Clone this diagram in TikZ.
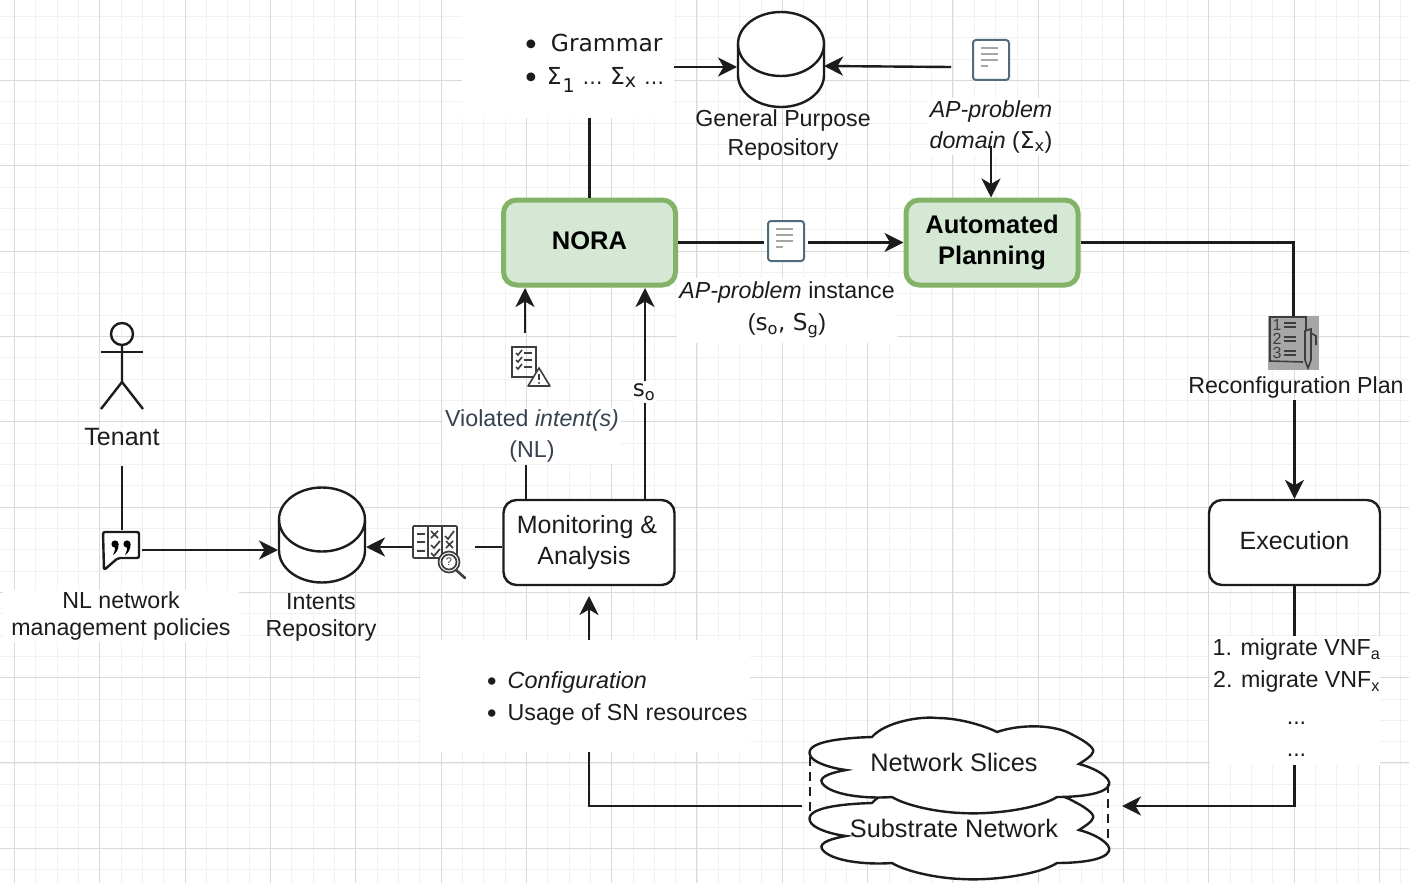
\documentclass[tikz,border=0pt]{standalone}
\usepackage{fontspec}
\setmainfont{Liberation Sans}
\newfontfamily\dejavu{DejaVu Sans}
\usetikzlibrary{arrows.meta}

\definecolor{inkline}{HTML}{1C1C1C}
\definecolor{slatetext}{HTML}{36424F}
\definecolor{gridmajor}{HTML}{D9D9D9}
\definecolor{gridminor}{HTML}{F1F1F1}
\definecolor{greenfill}{HTML}{D5E8D4}
\definecolor{greenline}{HTML}{82B366}
\definecolor{docline}{HTML}{4E6C7C}
\definecolor{iconline}{HTML}{3E3E3E}

\tikzset{
  flow/.style={draw=inkline, line width=2.4pt},
  flowarrow/.style={flow, -{Stealth[length=19pt,width=19pt,inset=5.5pt]}},
  greenbox/.style={draw=greenline, fill=greenfill, line width=5pt, rounded corners=13pt,
    minimum width=172pt, minimum height=85pt, align=center, text=black,
    font=\fontsize{25.5}{31}\selectfont\bfseries},
  whitebox/.style={draw=inkline, fill=white, line width=2.4pt, rounded corners=13pt,
    minimum width=171pt, minimum height=85pt, align=center, text=inkline,
    font=\fontsize{25}{31}\selectfont},
  lbl/.style={inner sep=2pt, align=center, text=inkline, font=\fontsize{23.2}{30}\selectfont},
  patch/.style={lbl, fill=white},
  spot/.style={inner sep=0pt},
  cloudline/.style={draw=inkline, fill=white, line width=2.4pt},
  repobody/.pic={
    \draw[flow, fill=white] (-43,-15.5) -- (-43,15.5) arc[start angle=180, end angle=0, x radius=43, y radius=32]
      -- (43,-15.5) arc[start angle=0, end angle=-180, x radius=43, y radius=32] -- cycle;
    \draw[flow] (-43,-15.5) arc[start angle=180, end angle=0, x radius=43, y radius=32];
  },
  docpage/.pic={
    \draw[draw=docline, fill=white, line width=2pt, rounded corners=3pt] (-18,-20) rectangle (18,20);
    \foreach \y/\w in {-12/17,-6/17,0/17,6/7}
      \draw[draw=gray!70, line width=2pt] (-10,\y) -- ({-10+\w},\y);
  }
}

\begin{document}
\begin{tikzpicture}[x=1pt,y=-1pt]

% Page size
\useasboundingbox (0,0) rectangle (1409,883);
\fill[white] (0,0) rectangle (1409,883);

% Background grid
\foreach \i in {0,...,66} {
  \pgfmathsetmacro{\gx}{round(14+21.33*\i-21.33)+0.5}
  \draw[gridminor, line width=1pt] (\gx,0) -- (\gx,883);
}
\foreach \i in {0,...,42} {
  \pgfmathsetmacro{\gy}{round(-5.3+21.33*\i)+0.5}
  \draw[gridminor, line width=1pt] (0,\gy) -- (1409,\gy);
}
\foreach \i in {0,...,16} {
  \pgfmathsetmacro{\gx}{round(14+85.3*\i)+0.5}
  \draw[gridmajor, line width=1.2pt] (\gx,0) -- (\gx,883);
}
\foreach \i in {1,...,10} {
  \pgfmathsetmacro{\gy}{round(-5.3+85.3*\i)+0.5}
  \draw[gridmajor, line width=1.2pt] (0,\gy) -- (1409,\gy);
}

% Free ends of the connectors
\coordinate (gpIn) at (737,67);
\coordinate (gpOut) at (824,66);
\coordinate (domainOut) at (951,67);
\coordinate (domainDown) at (991,146);
\coordinate (noraLeftIn) at (525,288);
\coordinate (noraRightIn) at (645,288);
\coordinate (violStart) at (526,499);
\coordinate (soStart) at (645,499);
\coordinate (monIn) at (589,596);
\coordinate (repoIn) at (278,550);
\coordinate (repoOut) at (366,547);
\coordinate (cloudIn) at (1122,806);
\coordinate (cloudOut) at (802,806);
\coordinate (tenantOut) at (122,466);

% Repositories
\node[spot, minimum width=85pt, minimum height=95pt] (gpRepo) at (781,59.5) {};
\pic at (gpRepo) {repobody};
\node[spot, minimum width=85pt, minimum height=95pt] (intentsRepo) at (322,535) {};
\pic at (intentsRepo) {repobody};
\node[lbl, font=\fontsize{23.2}{29}\selectfont] (gpText) at (783,135) {General Purpose\\Repository};
\node[lbl, font=\fontsize{23.2}{27}\selectfont] (intentsText) at (321,617) {Intents\\Repository};

% Grammar list
\node[patch, minimum width=212pt, minimum height=118pt] (grammarList) at (568,59) {};
\node[lbl, anchor=west, align=left, font=\fontsize{23.4}{33}\selectfont\dejavu] (grammarText) at (520,63)
  {\raisebox{-4pt}{\fontsize{30}{33}\selectfont\textbullet}\hspace{11pt}Grammar\\\raisebox{-4pt}{\fontsize{30}{33}\selectfont\textbullet}\hspace{7pt}Σ{\fontsize{19}{33}\selectfont\textsubscript{\kern1pt\fontsize{19}{19}\selectfont 1}} {\fontsize{20}{33}\selectfont\ldots} Σ\textsubscript{\fontsize{19}{19}\selectfont x} {\fontsize{20}{33}\selectfont\ldots}};

% Main blocks
\node[greenbox] (nora) at (589.5,242.5) {\raisebox{4pt}{NORA}};
\node[greenbox] (planner) at (992,242.5) {\raisebox{1.5pt}{Automated}\\\raisebox{1.5pt}{Planning}};
\node[whitebox] (monitor) at (589,542.5) {\hspace{-4pt}Monitoring \&\\\hspace{-10pt}Analysis};
\node[whitebox] (execution) at (1294.5,542.5) {\raisebox{5pt}{Execution}};

% Text labels
\node[patch, font=\fontsize{23.2}{31}\selectfont] (domainText) at (991,126.5)
  {\textit{AP-problem}\\\textit{domain} ({\dejavu Σ\textsubscript{x}})};
\node[patch, minimum width=217pt, minimum height=65pt, font=\fontsize{23.2}{32}\selectfont] (instanceText) at (787,310)
  {\textit{AP-problem} instance\\({\dejavu s\textsubscript{o}, S\textsubscript{g}})};
\node[patch, text=slatetext, font=\fontsize{23.2}{31}\selectfont] (violText) at (532,436) {Violated \textit{intent(s)}\\(NL)};
\node[patch, font=\fontsize{23}{30}\selectfont\dejavu] (soText) at (644,392) {s\textsubscript{o}};
\node[lbl, font=\fontsize{25}{30}\selectfont] (tenantText) at (122,437) {Tenant};
\node[patch, minimum width=236pt, minimum height=50pt, font=\fontsize{23.2}{27}\selectfont] (policyText) at (121,616)
  {NL network\\management policies};
\node[lbl] (planText) at (1296,387) {Reconfiguration Plan};
\node[patch, minimum width=330pt, minimum height=112pt] (configList) at (585,696) {};
\node[lbl, anchor=west, align=left, font=\fontsize{23.2}{32}\selectfont] (configText) at (485,698)
  {\raisebox{-2pt}{\fontsize{27}{32}\selectfont\textbullet}\hspace{11pt}{\fontsize{23.4}{32}\selectfont\textit{Configuration}}\\\raisebox{-2pt}{\fontsize{27}{32}\selectfont\textbullet}\hspace{11pt}Usage of SN resources};
\node[patch, minimum width=170pt, minimum height=129pt] (stepList) at (1294.5,700.5) {};
\node[lbl, font=\fontsize{23.2}{32}\selectfont] (stepText) at (1296.5,698)
  {1. migrate VNF\textsubscript{a}\\2. migrate VNF\textsubscript{x}\\[5pt]...\\...};

% Document icons
\node[spot, minimum width=36pt, minimum height=40pt] (docDomain) at (991,60) {};
\pic at (docDomain) {docpage};
\node[spot, minimum width=44pt, minimum height=40pt] (docInstance) at (786,241) {};
\pic at (docInstance) {docpage};

% Violated intents icon
\node[spot, minimum width=40pt, minimum height=40pt] (checkIcon) at (531,353) {};
\begin{scope}[shift={(524,362)}, draw=iconline, line width=1.6pt]
  \draw (-12,-15) rectangle (12,15);
  \foreach \y in {-9,-2,5} {
    \draw (-8,\y) -- (-6,{\y+2}) -- (-2,{\y-3});
    \draw (0,\y) -- (8,\y);
  }
  \draw[fill=white, line join=round] (15,6) -- (4,24) -- (26,24) -- cycle;
  \draw[line width=2pt] (15,12) -- (15,18);
  \fill[iconline] (15,21) circle (1.2);
\end{scope}

% Analysis icon
\node[spot, minimum width=62pt, minimum height=60pt] (analysisIcon) at (443.5,547) {};
\begin{scope}[draw=iconline, line width=1.7pt]
  \draw[rounded corners=1pt] (413,526) rectangle (457,558);
  \draw (428,526) -- (428,558) (442,526) -- (442,558);
  \foreach \y in {534,542,551} \draw (417,\y) -- (425,\y);
  \draw (431,531) -- (438,538) (438,531) -- (431,538);
  \draw (445,536) -- (448,539) -- (454,531);
  \draw (431,545) -- (434,548) -- (440,541);
  \draw (446,541) -- (453,548) (453,541) -- (446,548);
  \draw (431,553) -- (434,556) -- (440,549);
  \draw[line width=2.6pt, line cap=round] (456,570) -- (465,578);
  \draw[fill=white] (449,562) circle (10.5);
  \draw (449,562) circle (7.5);
  \node[spot, text=iconline, font=\fontsize{11}{11}\selectfont] (analysisMark) at (449,562) {?};
\end{scope}

% Tenant figure
\draw[flow] (122,334) circle (11);
\draw[flow] (122,345) -- (122,382) -- (101,409);
\draw[flow] (122,382) -- (143,409);
\draw[flow] (101,352) -- (143,352);

% Quote icon
\node[spot, minimum width=42pt, minimum height=38pt] (quoteIcon) at (121,549) {};
\draw[flow, fill=white, line join=round, rounded corners=2pt] (103,532) -- (139,532) -- (139,558) -- (118,558) -- (104,570) -- cycle;
\foreach \x in {115,127} {
  \fill[black] (\x,544) circle (3.6);
  \fill[black] ({\x+3.6},544) .. controls ({\x+3.6},550) and ({\x+1},553) .. ({\x-2},555) .. controls ({\x},551) and ({\x},549) .. (\x,547) -- cycle;
}

% Plan icon
\node[spot, fill=black!35, minimum width=51pt, minimum height=54pt] (planIcon) at (1293.5,343) {};
\begin{scope}[draw=iconline, line width=1.6pt]
  \draw (1306,330) -- (1306,317) -- (1270,317) -- (1270,361) -- (1303,362);
  \foreach \y/\n in {325/1,339/2,353/3} {
    \node[spot, text=iconline, font=\fontsize{16}{16}\selectfont] (num\n) at (1277,\y) {\n};
    \draw (1284,{\y-2}) -- (1296,{\y-2}) (1284,{\y+2}) -- (1296,{\y+2});
  }
  \draw (1305,331) -- (1311,329) -- (1311,360) -- (1308,368) -- (1305,360) -- cycle;
  \draw (1311,333) -- (1316,336) -- (1316,345);
\end{scope}

% Clouds, lower one first
\def\cloudshape{(810,755) .. controls (805,742) and (840,738) .. (872,737)
  .. controls (885,722) and (920,716) .. (937,718)
  .. controls (960,718) and (985,726) .. (997,732)
  .. controls (1020,724) and (1055,724) .. (1073,735)
  .. controls (1085,741) and (1095,748) .. (1093,752)
  .. controls (1092,756) and (1085,760) .. (1079,764)
  .. controls (1095,768) and (1112,778) .. (1109,785)
  .. controls (1105,795) and (1075,797) .. (1057,797)
  .. controls (1040,808) and (995,815) .. (961,813)
  .. controls (935,812) and (905,805) .. (892,797)
  .. controls (865,799) and (830,795) .. (822,783)
  .. controls (818,776) and (835,772) .. (846,770)
  .. controls (830,768) and (812,762) .. (810,755) -- cycle}
\begin{scope}[shift={(0,66)}]
  \draw[cloudline] \cloudshape;
\end{scope}
\draw[cloudline] \cloudshape;
\draw[flow, dash pattern=on 9pt off 6pt, line width=2pt] (810,757) -- (810,820);
\draw[flow, dash pattern=on 9pt off 6pt, line width=2pt] (1108,784) -- (1108,844);
\node[lbl, font=\fontsize{25.3}{30}\selectfont] (sliceText) at (954,762) {Network Slices};
\node[lbl, font=\fontsize{25.3}{30}\selectfont] (substrateText) at (954,828) {Substrate Network};

% Top row connectors
\draw[flowarrow] (grammarList.east |- gpIn) -- (gpIn);
\draw[flowarrow] (domainOut) -- (gpOut);
\draw[flow] (grammarList.south -| nora) -- (nora.north);
\draw[flowarrow] (domainDown) -- (domainDown |- planner.north);

% NORA to planner
\draw[flow] (nora.east) -- (docInstance.west |- nora.east);
\draw[flowarrow] (docInstance.east |- planner.west) -- (planner.west);

% Planner to execution
\draw[flow] (planner.east) -| (planIcon.north);
\draw[flowarrow] (planText.south -| execution) -- (execution.north);
\draw[flow] (execution.south) -- (stepList.north);

% Back to the network
\draw[flowarrow] (stepList.south) |- (cloudIn);
\draw[flow] (cloudOut) -| (configList.south -| monIn);
\draw[flowarrow] (configList.north -| monIn) -- (monIn);

% Monitoring to NORA
\draw[flow] (violStart) -- (violStart |- violText.south);
\draw[flowarrow] (noraLeftIn |- checkIcon.north) -- (noraLeftIn);
\draw[flow] (soStart) -- (soStart |- soText.south);
\draw[flowarrow] (soStart |- soText.north) -- (noraRightIn);

% Left side connectors
\draw[flow] (monitor.west |- repoOut) -- (analysisIcon.east |- repoOut);
\draw[flowarrow] (analysisIcon.west |- repoOut) -- (repoOut);
\draw[flow] (tenantOut) -- (tenantOut |- quoteIcon.north);
\draw[flowarrow] (quoteIcon.east |- repoIn) -- (repoIn);

\end{tikzpicture}
\end{document}
